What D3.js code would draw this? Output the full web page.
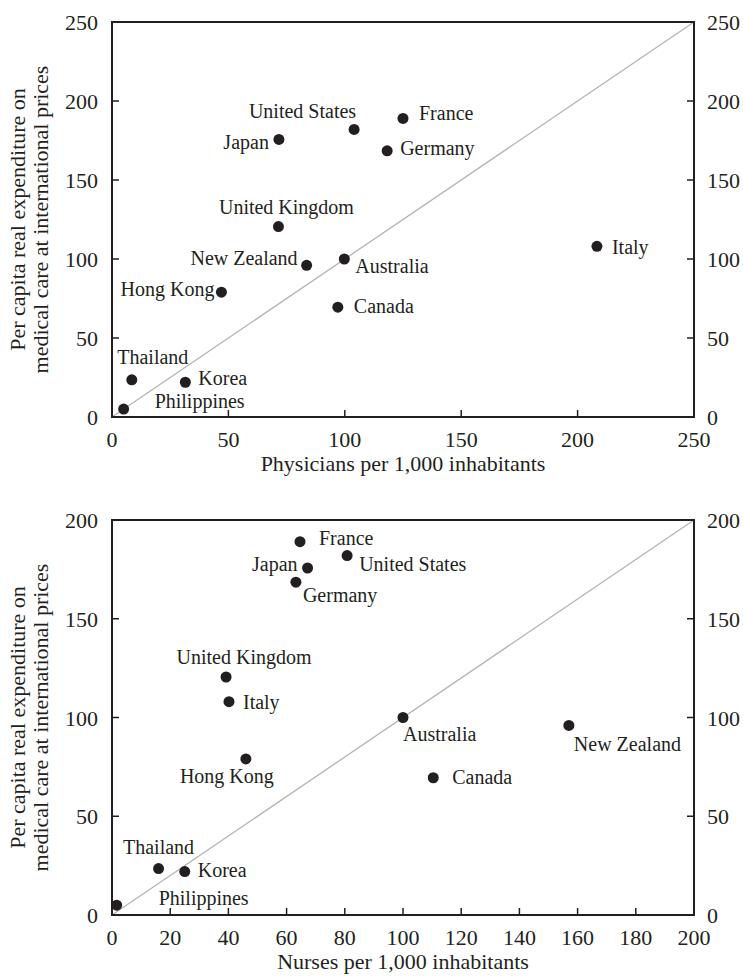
<!DOCTYPE html>
<html>
<head lang="en">
    <meta charset="UTF-8">
    <script src="https://cdn.jsdelivr.net/npm/d3@7/dist/d3.min.js"></script>
    <style>
        body { margin: 0; background: #fff; }
        text { font-family: "Liberation Serif", "Times New Roman", serif; fill: #231f20; }
    </style>
</head>
<body>
<svg width="743" height="976"></svg>
<script>
    // values
    var countries = ['Philippines', 'Thailand', 'Korea', 'Hong Kong', 'United Kingdom', 'Japan',
        'New Zealand', 'Australia', 'Canada', 'United States', 'Germany', 'France', 'Italy'];
    var spending  = [5, 23.5, 22, 79, 120.5, 175.7, 96, 100, 69.5, 182, 168.5, 189, 108];
    var physicians = [5, 8.5, 31.5, 47, 71.5, 71.7, 83.6, 99.8, 97, 104, 118.2, 125, 208.3];
    var nurses    = [1.6, 16, 25, 46, 39.2, 67.2, 157, 100, 110.4, 80.8, 63.2, 64.6, 40.2];

    var physTicks = [0, 50, 100, 150, 200, 250];
    var spendTicksTop = [0, 50, 100, 150, 200, 250];
    var nurseTicks = [0, 20, 40, 60, 80, 100, 120, 140, 160, 180, 200];
    var spendTicksBottom = [0, 50, 100, 150, 200];

    var yTitle = ['Per capita real expenditure on', 'medical care at international prices'];

    // label placement: dx, dy (baseline, from dot centre), anchor
    var topLabels = {
        'Philippines': [31, -1, 'start'], 'Thailand': [21, -16, 'middle'], 'Korea': [13, 3, 'start'],
        'Hong Kong': [-7, 4, 'end'], 'United Kingdom': [8, -13, 'middle'], 'Japan': [-10, 10, 'end'],
        'New Zealand': [-9, 0, 'end'], 'Australia': [11, 14, 'start'], 'Canada': [16, 6, 'start'],
        'United States': [2, -11, 'end'], 'Germany': [13, 4, 'start'], 'France': [16, 2, 'start'],
        'Italy': [15, 8, 'start']
    };
    var bottomLabels = {
        'Philippines': [42, 0, 'start'], 'Thailand': [0, -15, 'middle'], 'Korea': [13, 5, 'start'],
        'Hong Kong': [-19, 24, 'middle'], 'United Kingdom': [18, -13, 'middle'], 'Japan': [-10, 3, 'end'],
        'New Zealand': [5, 26, 'start'], 'Australia': [0, 23, 'start'], 'Canada': [19, 6, 'start'],
        'United States': [12, 15, 'start'], 'Germany': [7, 20, 'start'], 'France': [19, 3, 'start'],
        'Italy': [14, 7, 'start']
    };

    var svg = d3.select('svg');
    var left = 112, right = 694;
    var ink = '#231f20';
    var tickLen = 7;

    function drawPanel(top, bottom, xs, xMax, xTicks, yMax, yTicks, xTitle, labelPos) {
        var g = svg.append('g');
        var x = d3.scaleLinear().domain([0, xMax]).range([left, right]);
        var y = d3.scaleLinear().domain([0, yMax]).range([bottom, top]);

        // 45 degree reference line
        g.append('line')
                .attr('x1', x(0)).attr('y1', y(0))
                .attr('x2', x(xMax)).attr('y2', y(yMax))
                .attr('stroke', '#b4b4b4').attr('stroke-width', 1.3);

        // frame
        g.append('rect')
                .attr('x', left).attr('y', top)
                .attr('width', right - left).attr('height', bottom - top)
                .attr('fill', 'none').attr('stroke', ink).attr('stroke-width', 2);

        // inward ticks
        g.selectAll('.xt').data(xTicks.slice(1, -1)).enter().append('line')
                .attr('x1', function (d) { return x(d); }).attr('x2', function (d) { return x(d); })
                .attr('y1', bottom).attr('y2', bottom - tickLen)
                .attr('stroke', ink).attr('stroke-width', 1.5);
        var yInner = yTicks.slice(1, -1);
        g.selectAll('.ytl').data(yInner).enter().append('line')
                .attr('x1', left).attr('x2', left + tickLen)
                .attr('y1', function (d) { return y(d); }).attr('y2', function (d) { return y(d); })
                .attr('stroke', ink).attr('stroke-width', 1.5);
        g.selectAll('.ytr').data(yInner).enter().append('line')
                .attr('x1', right).attr('x2', right - tickLen)
                .attr('y1', function (d) { return y(d); }).attr('y2', function (d) { return y(d); })
                .attr('stroke', ink).attr('stroke-width', 1.5);

        // tick labels
        g.selectAll('.xl').data(xTicks).enter().append('text')
                .text(function (d) { return d; })
                .attr('x', function (d) { return x(d); })
                .attr('y', bottom + 30)
                .attr('text-anchor', 'middle')
                .style('font-size', '22px');
        g.selectAll('.yll').data(yTicks).enter().append('text')
                .text(function (d) { return d; })
                .attr('x', left - 14)
                .attr('y', function (d) { return y(d) + 8; })
                .attr('text-anchor', 'end')
                .style('font-size', '22px');
        g.selectAll('.ylr').data(yTicks).enter().append('text')
                .text(function (d) { return d; })
                .attr('x', right + 13)
                .attr('y', function (d) { return y(d) + 8; })
                .attr('text-anchor', 'start')
                .style('font-size', '22px');

        // axis titles
        g.append('text')
                .text(xTitle)
                .attr('x', (left + right) / 2)
                .attr('y', bottom + 54)
                .attr('text-anchor', 'middle')
                .style('font-size', '22px');
        var mid = (top + bottom) / 2;
        g.selectAll('.yt').data(yTitle).enter().append('text')
                .text(function (d) { return d; })
                .attr('transform', function (d, i) {
                    return 'translate(' + (25 + i * 23) + ',' + mid + ') rotate(-90)';
                })
                .attr('text-anchor', 'middle')
                .style('font-size', '22px');

        // dots + labels
        g.selectAll('.dot').data(countries).enter().append('circle')
                .attr('cx', function (d, i) { return x(xs[i]); })
                .attr('cy', function (d, i) { return y(spending[i]); })
                .attr('r', 5.5)
                .attr('fill', ink);
        g.selectAll('.lab').data(countries).enter().append('text')
                .text(function (d) { return d; })
                .attr('x', function (d, i) { return x(xs[i]) + labelPos[d][0]; })
                .attr('y', function (d, i) { return y(spending[i]) + labelPos[d][1]; })
                .attr('text-anchor', function (d) { return labelPos[d][2]; })
                .style('font-size', '20px');
    }

    drawPanel(22, 417, physicians, 250, physTicks, 250, spendTicksTop,
            'Physicians per 1,000 inhabitants', topLabels);
    drawPanel(520, 915, nurses, 200, nurseTicks, 200, spendTicksBottom,
            'Nurses per 1,000 inhabitants', bottomLabels);
</script>
</body>
</html>
